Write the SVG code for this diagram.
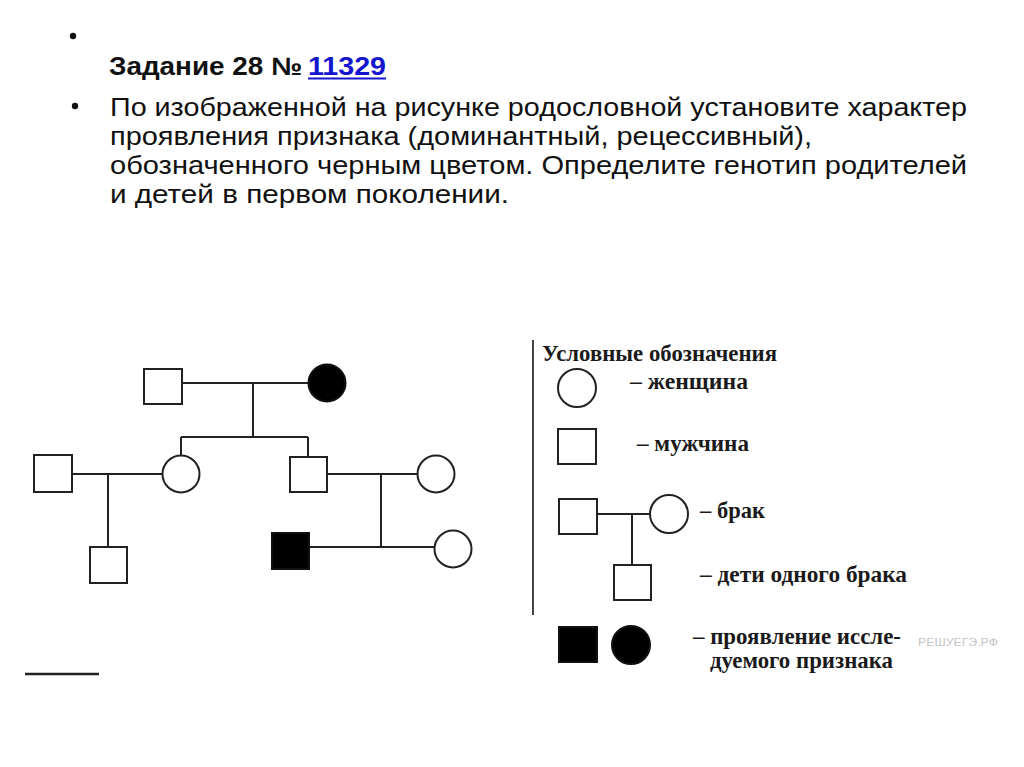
<svg xmlns="http://www.w3.org/2000/svg" width="1024" height="767" viewBox="0 0 1024 767">
<style>
.hd{font-family:"Liberation Sans","Noto Sans",sans-serif;font-size:25px;fill:#111}
.lg{font-family:"Liberation Serif","DejaVu Serif",serif;font-size:23px;font-weight:bold;fill:#1a1a1a}
.nd{fill:#fff;stroke:#222;stroke-width:2}
.af{fill:#000;stroke:#111;stroke-width:2}
.cn{stroke:#222;stroke-width:2;fill:none}
</style>
<rect width="1024" height="767" fill="#fff"/>
<g id="header">
<circle cx="73" cy="36" r="3.2" fill="#111"/>
<text class="hd" x="109" y="75" font-weight="bold" textLength="193" lengthAdjust="spacingAndGlyphs">Задание 28 №</text>
<text class="hd" x="308" y="75" font-weight="bold" style="fill:#1515d0" textLength="78" lengthAdjust="spacingAndGlyphs">11329</text>
<line x1="308" y1="78.5" x2="386" y2="78.5" stroke="#1515d0" stroke-width="2"/>
<circle cx="75" cy="106" r="3.2" fill="#111"/>
<text class="hd" x="110" y="116" textLength="857" lengthAdjust="spacingAndGlyphs">По изображенной на рисунке родословной установите характер</text>
<text class="hd" x="110" y="145" textLength="702" lengthAdjust="spacingAndGlyphs">проявления признака (доминантный, рецессивный),</text>
<text class="hd" x="110" y="174" textLength="857" lengthAdjust="spacingAndGlyphs">обозначенного черным цветом. Определите генотип родителей</text>
<text class="hd" x="110" y="203" textLength="399" lengthAdjust="spacingAndGlyphs">и детей в первом поколении.</text>
</g>
<g id="connectors">
<path class="cn" d="M182 383H309M253 383V437M181 437H308M181 437V455.5M308 437V457"/>
<path class="cn" d="M72 474H162.5M108 474V547"/>
<path class="cn" d="M327 474H417.5M381 474V547M309 547H434.5"/>
<path class="cn" d="M597 514H650M632 514V565"/>
</g>
<g id="p-gf"><rect class="nd" x="144" y="369" width="38" height="35"/></g>
<g id="p-gm"><circle class="af" cx="327" cy="383" r="18.5"/></g>
<g id="p-daughter"><circle class="nd" cx="181" cy="474" r="18.5"/></g>
<g id="p-son"><rect class="nd" x="290" y="457" width="37" height="35"/></g>
<g id="p-dh-husband"><rect class="nd" x="34" y="455" width="38" height="37"/></g>
<g id="p-grandson"><rect class="nd" x="90" y="547" width="37" height="36"/></g>
<g id="p-son-wife"><circle class="nd" cx="436" cy="474" r="18.5"/></g>
<g id="p-affected-son"><rect class="af" x="272" y="533" width="37" height="36"/></g>
<g id="p-granddaughter"><circle class="nd" cx="453" cy="549" r="18.5"/></g>
<g id="legend">
<line x1="533" y1="340" x2="533" y2="615" stroke="#444" stroke-width="2"/>
<text class="lg" x="542" y="361" textLength="235" lengthAdjust="spacingAndGlyphs">Условные обозначения</text>
<g id="lg-female"><circle class="nd" cx="577" cy="388" r="19"/><text class="lg" x="630" y="389" textLength="118" lengthAdjust="spacingAndGlyphs">– женщина</text></g>
<g id="lg-male"><rect class="nd" x="558" y="429" width="38" height="35"/><text class="lg" x="637" y="451" textLength="112" lengthAdjust="spacingAndGlyphs">– мужчина</text></g>
<g id="lg-marriage"><rect class="nd" x="559" y="499" width="38" height="35"/><circle class="nd" cx="669" cy="514" r="19"/><text class="lg" x="700" y="518" textLength="65" lengthAdjust="spacingAndGlyphs">– брак</text></g>
<g id="lg-children"><rect class="nd" x="614" y="565" width="37" height="35"/><text class="lg" x="700" y="582" textLength="207" lengthAdjust="spacingAndGlyphs">– дети одного брака</text></g>
<g id="lg-trait"><rect class="af" x="559" y="627" width="38" height="35"/><circle class="af" cx="631" cy="645" r="19"/>
<text class="lg" x="693" y="644" textLength="208" lengthAdjust="spacingAndGlyphs">– проявление иссле-</text>
<text class="lg" x="710" y="668" textLength="183" lengthAdjust="spacingAndGlyphs">дуемого признака</text></g>
<text x="918" y="646" font-family="Liberation Sans,sans-serif" font-size="10" fill="#c4c4c4" textLength="80" lengthAdjust="spacingAndGlyphs">РЕШУЕГЭ.РФ</text>
</g>
<line x1="25" y1="674" x2="99" y2="674" stroke="#222" stroke-width="2.5"/>
</svg>
